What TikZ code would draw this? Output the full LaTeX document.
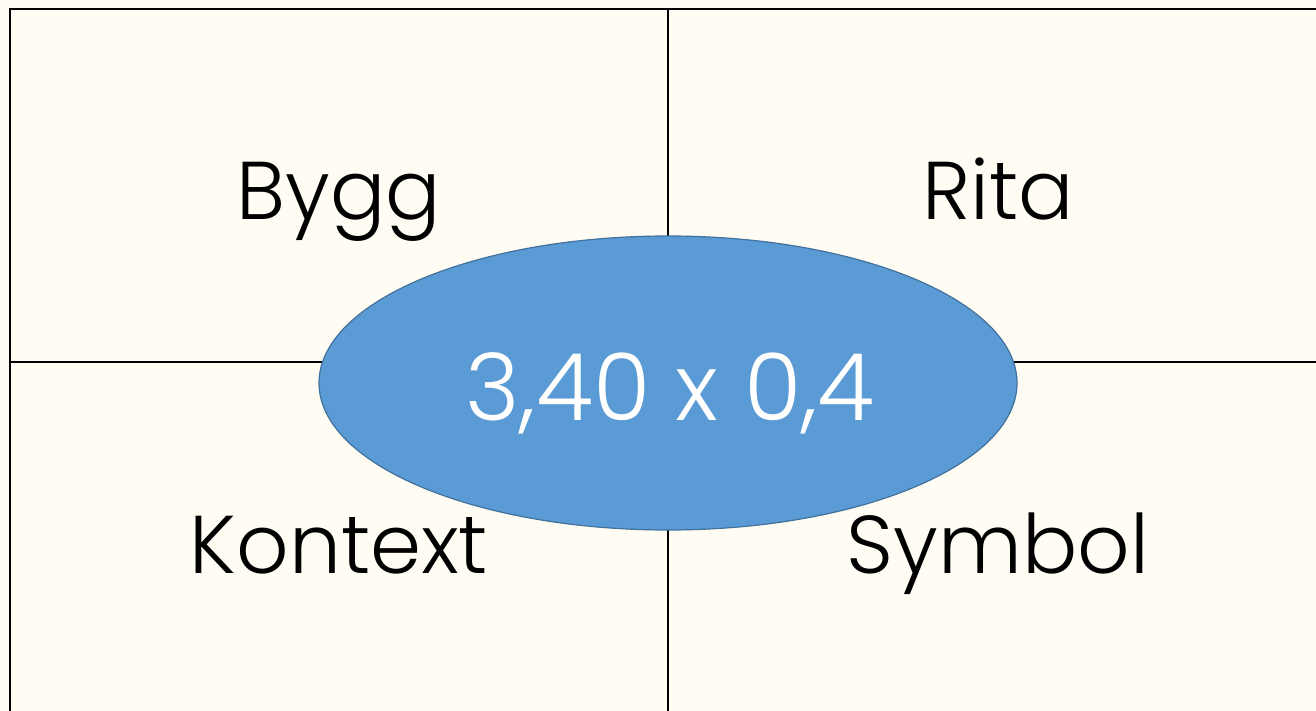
\documentclass[tikz,border=0pt]{standalone}
\usepackage{fontspec}
\setmainfont{Poppins}[UprightFont=* Light]
\usetikzlibrary{shapes.geometric}
\definecolor{cream}{HTML}{FFFCF3}
\definecolor{ellfill}{HTML}{5B9BD5}
\definecolor{elldraw}{HTML}{41719C}
\tikzset{
  px/.style={x=0.5pt,y=-0.5pt},
  outer/.style={draw=black,line width=1.1pt},
  inner/.style={draw=black,line width=0.8pt},
  label/.style={anchor=base,font=\fontsize{41}{48}\selectfont,inner sep=0pt},
  bigell/.style={ellipse,fill=ellfill,draw=elldraw,line width=0.6pt,minimum width=349pt,minimum height=147pt,inner sep=0pt}
}
\begin{document}
\begin{tikzpicture}[px]
\useasboundingbox (0,0) rectangle (1316,711);
\fill[cream] (0,0) rectangle (1316,711);
\coordinate (tl) at (10,9);
\coordinate (tr) at (1330,9);
\coordinate (bl) at (10,720);
\coordinate (tm) at (668,9);
\coordinate (bm) at (668,720);
\coordinate (ml) at (10,362);
\coordinate (mr) at (1330,362);
\draw[inner] (tm) -- (bm);
\draw[inner] (ml) -- (mr);
\draw[outer] (bl) -- (tl) -- (tr);
\node[bigell] (ell) at (668,383) {};
\node[label] (bygg) at (339,220) {Bygg};
\node[label] (rita) at (998,220) {Rita};
\node[label] (kontext) at (339,573) {Kontext};
\node[label] (symbol) at (998,573) {Symbol};
\node[label,text=white,font=\fontsize{46.5}{54}\selectfont] (val) at (670,420) {3,40 x 0,4};
\end{tikzpicture}
\end{document}
